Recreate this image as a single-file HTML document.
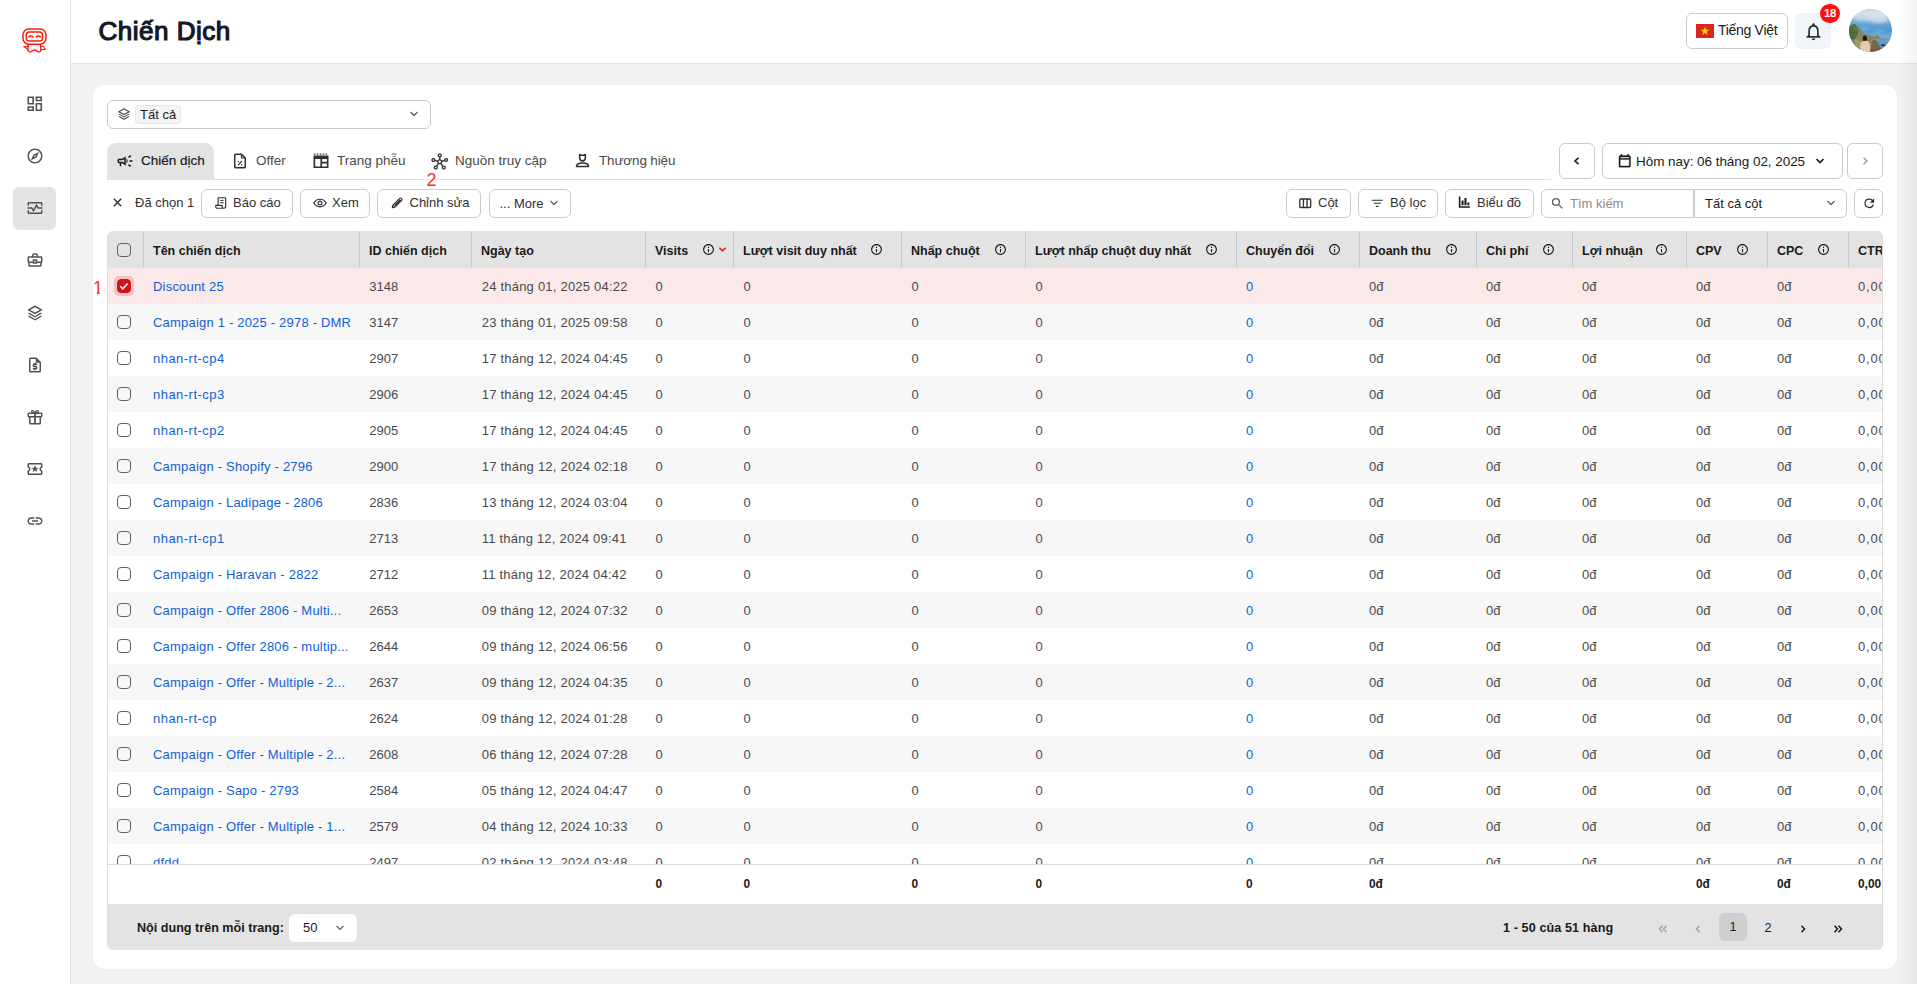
<!DOCTYPE html>
<html lang="vi"><head><meta charset="utf-8"><title>Chiến Dịch</title>
<style>
*{box-sizing:border-box;margin:0;padding:0}
html,body{width:1917px;height:984px;overflow:hidden;background:#f1f1f1;
 font-family:"Liberation Sans",sans-serif;color:#303030;font-size:13px}
.abs{position:absolute}
svg{display:block}
#side{position:absolute;left:0;top:0;width:71px;height:984px;background:#fff;border-right:1px solid #e3e3e3}
#side .it{position:absolute;left:25px;width:20px;height:20px}
#side .act{position:absolute;left:13px;top:187px;width:43px;height:43px;background:#e3e3e3;border-radius:6px}
#head{position:absolute;left:71px;top:0;width:1846px;height:64px;background:#fff;border-bottom:1px solid #e3e3e3}
#title{position:absolute;left:98.500px;top:13px;font-size:26px;font-weight:400;-webkit-text-stroke:1.2px #111827;color:#111827;letter-spacing:0.5px;line-height:36px;white-space:nowrap}
#card{position:absolute;left:93px;top:85px;width:1804px;height:884px;background:#fff;border-radius:12px}
.btn{position:absolute;height:29px;border:1px solid #cbcbcb;border-radius:6px;background:#fff;white-space:nowrap;
 font-size:13px;color:#303030;line-height:25px}
.btn span{position:absolute;top:0}
.btn svg{position:absolute}
.tab{position:absolute;top:144px;height:35px;font-size:13.5px;color:#4a4a4a;line-height:34px;white-space:nowrap}
.tab svg{position:absolute}
.tab span{position:absolute;top:0}
#edge{position:absolute;right:0;top:0;width:17px;height:984px;background:linear-gradient(to right,rgba(0,0,0,0),rgba(0,0,0,0.05));pointer-events:none}
/* table */
#tbl{position:absolute;left:107px;top:231px;width:1776px;height:719px;overflow:hidden;border-right:1px solid #d9d9d9;border-left:1px solid #dedede;border-radius:6px 6px 6px 6px}
#thead{position:absolute;left:0;top:0;width:1776px;height:37px;background:#e3e3e3}
.th{position:absolute;top:0;height:37px;border-left:1px solid #c4cdd5;font-weight:700;font-size:12.5px;color:#1a1a1a;line-height:40px;padding-left:9px;white-space:nowrap}
.th i{position:absolute;top:12px;width:13px;height:13px}
#tbody{position:absolute;left:0;top:37px;width:1776px;height:596px;overflow:hidden}
.tr{position:absolute;left:0;width:1776px;height:36px;line-height:37px;font-size:13px;color:#4a4a4a;white-space:nowrap}
.tr.g{background:#f7f7f7}
.tr.sel{background:#fbe9e9}
.tr b{position:absolute;top:0;font-weight:400}
.tr a{position:absolute;top:0;left:45px;color:#0f5fd6;text-decoration:none;width:210px;overflow:hidden;letter-spacing:.2px}
.tr b.d{letter-spacing:.22px}
.tr .c{color:#0f5fd6}
.cb{position:absolute;left:9px;width:14px;height:14px;border:1px solid #616161;border-radius:4px;background:transparent}
#tfoot{position:absolute;left:0;top:633px;width:1776px;height:40px;border-top:1px solid #dcdcdc;background:#fff;font-size:11.9px;font-weight:700;color:#1a1a1a;line-height:39px}
#tfoot b{position:absolute;top:0}
#pager{position:absolute;left:0;top:673px;width:1776px;height:46px;background:#e3e3e3;font-size:12.6px;font-weight:700;color:#1a1a1a;line-height:48px}
</style></head><body>
<div id="side">
<div class="act"></div>
<svg class="abs" style="left:20px;top:26px" width="30" height="30" viewBox="20 26 30 30" fill="none" stroke="#ff1a0a" stroke-width="1.500" stroke-linejoin="round" stroke-linecap="round">
<rect x="22.950" y="29.050" width="23" height="15.100" rx="5.800"/>
<rect x="26.200" y="32.100" width="16.400" height="9" rx="3.300" stroke-width="1.500"/>
<path d="M28.800 37.100q2.200-2.300 4.400 0M36.200 37.100q2.200-2.300 4.400 0" stroke-width="1.400"/>
<path d="M28.300 44.900L27.900 50.400Q29.500 53.200 31.300 51.400Q32.800 50 34.400 50Q36 50 37.500 51.400Q39.300 53.200 40.900 50.400L40.500 44.900" stroke-width="1.300"/>
<path d="M28.100 46.400L24.200 46.600L27.900 49.500M40.700 46.300L43.600 46.500L45.200 49.500L40.900 49.600" stroke-width="1.100" stroke-linejoin="miter"/>
</svg>
<div class="it" style="left:24.75px;top:94.25px"><svg width="19.5" height="19.5" viewBox="0 0 24 24" fill="#525252" ><path d="M19 5v2h-4V5h4M9 5v6H5V5h4m10 8v6h-4v-6h4M9 17v2H5v-2h4M21 3h-8v6h8V3zM11 3H3v10h8V3zm10 8h-8v10h8V11zm-10 4H3v6h8v-6z"/></svg></div>
<div class="it" style="left:25.5px;top:147.0px"><svg width="18" height="18" viewBox="0 0 24 24" fill="#525252" ><path d="M12 2C6.48 2 2 6.48 2 12s4.48 10 10 10 10-4.48 10-10S17.52 2 12 2zm0 18c-4.41 0-8-3.59-8-8s3.59-8 8-8 8 3.59 8 8-3.59 8-8 8zm-5.5-2.5l7.51-3.49L17.5 6.5 9.99 9.99 6.5 17.5zm5.5-6.6c.61 0 1.1.49 1.1 1.1s-.49 1.1-1.1 1.1-1.1-.49-1.1-1.1.49-1.1 1.1-1.1z"/></svg></div>
<div class="it" style="left:25.5px;top:199.0px"><svg width="18" height="18" viewBox="0 0 24 24" fill="#525252" ><path d="M20 4H4c-1.1 0-2 .9-2 2v3h2V6h16v3h2V6c0-1.1-.9-2-2-2zm0 14H4v-3H2v3c0 1.1.9 2 2 2h16c1.1 0 2-.9 2-2v-3h-2v3z"/><path d="M14.89 7.55c-.34-.68-1.45-.68-1.79 0L10 13.76l-1.11-2.21A.988.988 0 0 0 8 11H2v2h5.380l1.720 3.450c.18.34.52.55.9.55s.72-.21.89-.55L14 10.240l1.110 2.210c.17.34.51.55.89.55h6v-2h-5.380l-1.730-3.450z"/></svg></div>
<div class="it" style="left:25.5px;top:251.0px"><svg width="18" height="18" viewBox="0 0 24 24" fill="#525252" ><path d="M20 7h-4V5l-2-2h-4L8 5v2H4c-1.1 0-2 .9-2 2v5c0 .75.4 1.380 1 1.730V19c0 1.110.89 2 2 2h14c1.110 0 2-.89 2-2v-3.280c.59-.35 1-.99 1-1.720V9c0-1.100-.9-2-2-2zM10 5h4v2h-4V5zM4 9h16v5h-5v-3H9v3H4V9zm9 6h-2v-2h2v2zm6 4H5v-3h4v1h6v-1h4v3z"/></svg></div>
<div class="it" style="left:25.5px;top:304.0px"><svg width="18" height="18" viewBox="0 0 24 24" fill="#525252" ><g fill="none" stroke="#525252" stroke-width="2" stroke-linejoin="round"><path d="M12 3l8.500 4.800-8.500 4.800L3.500 7.800z"/><path d="M3.500 12.200L12 17l8.500-4.800" stroke-width="1.700"/><path d="M3.500 16.200L12 21l8.500-4.800" stroke-width="1.700"/></g></svg></div>
<div class="it" style="left:25.5px;top:356.0px"><svg width="18" height="18" viewBox="0 0 24 24" fill="#525252" ><path d="M14 2H6c-1.1 0-1.99.9-1.990 2L4 20c0 1.100.89 2 1.990 2H18c1.100 0 2-.9 2-2V8l-6-6zM6 20V4h7v5h5v11H6zm5-1h2v-1h1c.55 0 1-.45 1-1v-3c0-.55-.45-1-1-1h-3v-1h4v-2h-2V9h-2v1h-1c-.55 0-1 .45-1 1v3c0 .55.45 1 1 1h3v1H9v2h2v1z"/></svg></div>
<div class="it" style="left:25.5px;top:408.0px"><svg width="18" height="18" viewBox="0 0 24 24" fill="#525252" ><g fill="none" stroke="#525252" stroke-width="2" stroke-linejoin="round"><rect x="3" y="7" width="18" height="4.5" rx="0.8"/><path d="M5 11.500V20a1 1 0 0 0 1 1h12a1 1 0 0 0 1-1v-8.500"/><path d="M12 7v14" stroke-width="2.4"/><path d="M12 6.500c-1-3-3.800-3.800-4.500-2.300S9 6.800 12 6.500zM12 6.500c1-3 3.800-3.800 4.500-2.300S15 6.800 12 6.500z" stroke-width="1.600"/></g></svg></div>
<div class="it" style="left:25.5px;top:460.0px"><svg width="18" height="18" viewBox="0 0 24 24" fill="#525252" ><path d="M22 10V6c0-1.110-.9-2-2-2H4c-1.100 0-1.990.89-1.990 2v4c1.100 0 1.990.9 1.990 2s-.89 2-2 2v4c0 1.100.9 2 2 2h16c1.100 0 2-.9 2-2v-4c-1.100 0-2-.9-2-2s.9-2 2-2zm-2-1.460c-1.190.69-2 1.990-2 3.460s.81 2.770 2 3.460V18H4v-2.540c1.190-.69 2-1.990 2-3.460 0-1.480-.8-2.770-1.990-3.460L4 6h16v2.540zM9.070 16L12 14.120 14.930 16l-.89-3.360 2.690-2.200-3.470-.21L12 7l-1.270 3.220-3.470.21 2.690 2.200z"/></svg></div>
<div class="it" style="left:25.5px;top:512.0px"><svg width="18" height="18" viewBox="0 0 24 24" fill="#525252" ><path d="M3.900 12c0-1.710 1.390-3.100 3.100-3.100h4V7H7c-2.760 0-5 2.240-5 5s2.240 5 5 5h4v-1.900H7c-1.710 0-3.100-1.390-3.100-3.100zM8 13h8v-2H8v2zm9-6h-4v1.900h4c1.710 0 3.100 1.390 3.100 3.100s-1.390 3.100-3.100 3.100h-4V17h4c2.760 0 5-2.240 5-5s-2.240-5-5-5z"/></svg></div>
</div>
<div id="head"></div>
<div id="title">Chiến Dịch</div>
<div class="btn" style="left:1686px;top:13px;width:102px;height:36px;border-radius:6px">
<svg style="left:9px;top:10px" width="18" height="14" viewBox="0 0 18 14"><rect width="18" height="14" fill="#da251d"/><path fill="#ffde00" d="M9 2.600l1.050 3.200h3.350l-2.700 1.950 1.030 3.200L9 9l-2.730 1.950 1.030-3.200L4.600 5.800h3.350z"/></svg>
<span style="left:31px;font-size:14px;line-height:33px;color:#1a1a1a;letter-spacing:-0.3px">Tiếng Việt</span></div>
<div class="abs" style="left:1795px;top:13px;width:36px;height:36px;border-radius:6px;background:#f1f5f9">
<svg style="position:absolute;left:7.500px;top:8px" width="21" height="21" viewBox="0 0 24 24" fill="#303030"><path d="M12 22c1.100 0 2-.9 2-2h-4c0 1.100.9 2 2 2zm6-6v-5c0-3.070-1.630-5.640-4.500-6.320V4c0-.83-.67-1.500-1.500-1.500s-1.500.67-1.500 1.500v.68C7.640 5.360 6 7.920 6 11v5l-2 2v1h16v-1l-2-2zm-2 1H8v-6c0-2.480 1.510-4.500 4-4.500s4 2.020 4 4.500v6z"/></svg></div>
<div class="abs" style="left:1820px;top:3.500px;width:20px;height:19px;border-radius:10px;background:#ff0f0f;color:#fff;font-size:11.500px;font-weight:700;text-align:center;line-height:19px;letter-spacing:-0.3px">18</div>
<svg class="abs" style="left:1849px;top:9px" width="43" height="43" viewBox="0 0 43 43">
<defs><clipPath id="av"><circle cx="21.500" cy="21.500" r="21.500"/></clipPath>
<filter id="bl" x="-20%" y="-20%" width="140%" height="140%"><feGaussianBlur stdDeviation="0.700"/></filter>
<filter id="bl2" x="-20%" y="-20%" width="140%" height="140%"><feGaussianBlur stdDeviation="1.600"/></filter>
<linearGradient id="sky" x1="0" y1="0" x2="0" y2="1"><stop offset="0" stop-color="#a9c6dd"/><stop offset="0.3" stop-color="#6ea9d8"/><stop offset="0.5" stop-color="#4b95d4"/><stop offset="0.66" stop-color="#7db0d6"/><stop offset="0.67" stop-color="#6b9fc0"/><stop offset="1" stop-color="#4f8bb2"/></linearGradient></defs>
<g clip-path="url(#av)">
<rect width="43" height="43" fill="url(#sky)"/>
<g filter="url(#bl2)"><ellipse cx="22" cy="6" rx="17" ry="6" fill="#d3e1ea"/><ellipse cx="30" cy="11" rx="10" ry="3" fill="#c7d9e6"/><ellipse cx="12" cy="9" rx="8" ry="3" fill="#c4d8e6"/><ellipse cx="16" cy="20" rx="4" ry="1" fill="#8fbde0"/><ellipse cx="30" cy="22" rx="7" ry="1.200" fill="#80b4dc"/></g>
<g filter="url(#bl)">
<path d="M0 17.500L4 15.600L6 15l2.500 2.500L12 22l3.500 3 5 1.200 4.500 1.400 3.400-1.500 1.600 1.400 1.700 2-4.500.2-3 .6-2 2 3 2 2 3 3.500 4V43H0z" fill="#8a845a"/>
<path d="M0 17.500L4 15.600L6 15l2 2.500L9.500 22 8 27l-3 4-5-2z" fill="#4f6e3a"/>
<path d="M5 17l3 1 2 4-2 1-3-3z" fill="#5f7d44"/>
<path d="M23 32l3-1.500 2.500 2 1.500 3.500 2 3v4H22z" fill="#74684d"/>
<path d="M6 30l6 2 2 8-8-2z" fill="#a39a68"/>
<path d="M26.500 27.300l2-1.300 1.600 1.400 1.700 2z" fill="#7d8573"/>
<rect x="32" y="35.500" width="4.200" height="1.600" rx=".5" fill="#1f2a38"/>
<path d="M8 38.500c8 1.800 18 2 25 .5l-.5 1.600c-8 1.700-17 1.300-24-.3z" fill="#a8434a"/>
<ellipse cx="15.900" cy="29.600" rx="2.100" ry="3" fill="#15161a"/>
<path d="M11.200 43v-6.500c0-3 2-4.700 4.900-4.700s5 1.700 5 4.700V43z" fill="#decdae"/>
</g>
</g></svg>
<div id="card"></div>
<div class="btn" style="left:107px;top:100px;width:324px;height:29px">
<svg style="left:9px;top:6px" width="14" height="14" viewBox="0 0 24 24" fill="none" stroke="#4a4a4a" stroke-width="1.800" stroke-linejoin="round"><path d="M12 3l9 5-9 5-9-5z"/><path d="M3.500 12.200L12 17l8.500-4.800M3.500 16.200L12 21l8.500-4.800"/></svg>
<div class="abs" style="left:27px;top:4px;width:46px;height:19px;background:#f4f4f4;border:1px solid #e6e6e6;border-radius:4px"></div>
<span style="left:32px;font-size:13px;color:#1a1a1a;line-height:27px">Tất cả</span>
<svg style="left:301px;top:8px" width="10" height="10" viewBox="0 0 10 10" fill="none" stroke="#5c5c5c" stroke-width="1.300"><path d="M1.500 3l3.500 3.500L8.500 3"/></svg>
</div>
<div class="abs" style="left:107px;top:179px;width:1444px;height:1px;background:#e1e1e1"></div>
<div class="abs" style="left:107px;top:143px;width:107px;height:37px;background:#e3e3e3;border-radius:9px 9px 0 0"></div>
<div class="tab" style="left:107px;width:107px;color:#1a1a1a">
<svg style="left:9px;top:8px" width="18" height="18" viewBox="0 0 24 24" fill="#1a1a1a"><path d="M18 11v2h4v-2h-4zm-2 6.610c.96.71 2.210 1.650 3.200 2.390.4-.53.8-1.070 1.200-1.600-.99-.74-2.240-1.680-3.200-2.400-.4.54-.8 1.080-1.200 1.610zM20.400 5.600c-.4-.53-.8-1.070-1.200-1.600-.99.74-2.240 1.680-3.200 2.400.4.53.8 1.070 1.200 1.600.96-.72 2.210-1.650 3.200-2.400zM4 9c-1.100 0-2 .9-2 2v2c0 1.100.9 2 2 2h1v4h2v-4h1l5 3V6L8 9H4zm5.030 1.710L11 9.530v4.940l-1.970-1.180-.48-.29H4v-2h4.550l.48-.29zM15.500 12c0-1.330-.58-2.530-1.500-3.350v6.690c.92-.81 1.500-2.010 1.500-3.340z"/></svg>
<span style="left:34px;font-weight:400;-webkit-text-stroke:0.2px #1a1a1a">Chiến dịch</span></div>
<div class="tab" style="left:224px;width:80px">
<svg style="left:7px;top:8px" width="18" height="18" viewBox="0 0 24 24" fill="none" stroke="#303030" stroke-width="2" stroke-linejoin="round"><path d="M6 3h8l5 5v12a1 1 0 0 1-1 1H6a1 1 0 0 1-1-1V4a1 1 0 0 1 1-1z"/><path d="M14 3v5h5" stroke-width="1.600"/><path d="M9.500 17.500l5-5.500" stroke-width="1.500"/><circle cx="9.700" cy="12.600" r=".9" fill="#303030" stroke="none"/><circle cx="14.300" cy="16.900" r=".9" fill="#303030" stroke="none"/></svg>
<span style="left:32px">Offer</span></div>
<div class="tab" style="left:304px;width:110px">
<svg style="left:7px;top:7px" width="20" height="20" viewBox="0 0 24 24" fill="#303030"><path fill-rule="evenodd" d="M3 5.300h18v15.200H3zM5 9.500v9h6.300v-9zM13.300 9.500v3.500h5.700v-3.500zM13.300 15v3.500h5.700V15z"/><path d="M3.500 3h1.800v1.500H3.500zM7 3h1.800v1.500H7zM10.500 3h1.800v1.500h-1.800zM14 3h1.800v1.500H14zM17.500 3h1.800v1.500h-1.800z"/></svg>
<span style="left:33px">Trang phễu</span></div>
<div class="tab" style="left:422px;width:130px">
<svg style="left:9px;top:9px" width="17.500" height="17.500" viewBox="0 0 24 24" fill="none" stroke="#303030" stroke-width="1.800"><circle cx="12" cy="12" r="2.600"/><circle cx="12" cy="3.300" r="2"/><circle cx="3.300" cy="9.600" r="2"/><circle cx="20.700" cy="9.600" r="2"/><circle cx="6.500" cy="20" r="2"/><circle cx="17.500" cy="20" r="2"/><path d="M12 5.300v4.100M5.200 10.200l4.300 1.200M18.800 10.200l-4.300 1.200M7.600 18.300l2.800-4.100M16.400 18.300l-2.800-4.100"/></svg>
<span style="left:33px">Nguồn truy cập</span></div>
<div class="tab" style="left:566px;width:120px">
<svg style="left:8px;top:8px" width="17" height="17" viewBox="0 0 24 24" fill="none" stroke="#303030" stroke-width="2.200" stroke-linejoin="round"><path d="M8 3.500l1.500 1h5l1.500-1v5a4 4 0 0 1-8 0z"/><path d="M3.500 20.500c0-3.500 3.500-5 8.500-5s8.500 1.500 8.500 5z"/></svg>
<span style="left:33px;letter-spacing:-.15px">Thương hiệu</span></div>
<div class="abs" style="left:426.500px;top:170px;font-size:18px;color:#ff2b2b;line-height:20px">2</div>
<div class="abs" style="left:93px;top:277.500px;font-size:18px;color:#ff2b2b;line-height:20px;clip-path:polygon(0 0,6.600px 0,6.600px 20px,4px 20px,4px 14.300px,0 14.300px)">1</div>
<div class="btn" style="left:1559px;top:143px;width:36px;height:36px"><svg style="left:12px;top:12px" width="10" height="10" viewBox="0 0 10 10" fill="none" stroke="#1a1a1a" stroke-width="1.600"><path d="M6.500 1.800L3 5l3.500 3.200"/></svg></div>
<div class="btn" style="left:1602px;top:143px;width:241px;height:36px">
<svg style="left:14px;top:8.500px" width="15.500" height="15.500" viewBox="0 0 24 24" fill="#1a1a1a" stroke="#1a1a1a" stroke-width=".5"><path d="M19 4h-1V2h-2v2H8V2H6v2H5c-1.100 0-2 .9-2 2v14c0 1.100.9 2 2 2h14c1.100 0 2-.9 2-2V6c0-1.100-.9-2-2-2zm0 16H5V10h14v10zM5 8V6h14v2H5z"/></svg>
<span style="left:33px;font-size:13.500px;color:#1a1a1a;line-height:35px;letter-spacing:-0.05px">Hôm nay: 06 tháng 02, 2025</span>
<svg style="left:212px;top:12px" width="10" height="10" viewBox="0 0 10 10" fill="none" stroke="#1a1a1a" stroke-width="1.700"><path d="M1.500 3l3.500 3.500L8.500 3"/></svg></div>
<div class="btn" style="left:1847px;top:143px;width:36px;height:36px"><svg style="left:12px;top:12px" width="10" height="10" viewBox="0 0 10 10" fill="none" stroke="#9a9a9a" stroke-width="1.400"><path d="M3.500 1.800L7 5 3.500 8.200"/></svg></div>
<svg class="abs" style="left:113px;top:198px" width="9" height="9" viewBox="0 0 9 9" fill="none" stroke="#303030" stroke-width="1.400"><path d="M.8.800l7.400 7.400M8.200.800L.8 8.200"/></svg>
<div class="abs" style="left:135px;top:189px;font-size:13px;line-height:27px;color:#303030;white-space:nowrap">Đã chọn 1</div>
<div class="btn" style="left:201px;top:189px;width:92px">
<svg style="left:12px;top:5.500px" width="14" height="14" viewBox="0 0 24 24" fill="none" stroke="#303030" stroke-width="2" stroke-linejoin="round"><path d="M7 16V4a1 1 0 0 1 1-1h11a1 1 0 0 1 1 1v14a3 3 0 0 1-3 3H5.500A2.500 2.500 0 0 1 3 18.500V16h11v2.500a2.500 2.500 0 0 0 3 2.400"/><path d="M10.500 7.500h6M10.500 11.500h6" stroke-width="1.700"/></svg>
<span style="left:31px">Báo cáo</span></div>
<div class="btn" style="left:300px;top:189px;width:70px">
<svg style="left:12px;top:5.500px" width="14" height="14" viewBox="0 0 24 24" fill="none" stroke="#303030" stroke-width="2"><path d="M1.500 12C4 7.500 7.700 5.500 12 5.500S20 7.500 22.500 12C20 16.500 16.300 18.500 12 18.500S4 16.500 1.500 12z"/><circle cx="12" cy="12" r="3.300"/></svg>
<span style="left:31px">Xem</span></div>
<div class="btn" style="left:377px;top:189px;width:104px">
<svg style="left:11.500px;top:5.500px" width="14" height="14" viewBox="0 0 24 24" fill="none" stroke="#303030" stroke-width="2" stroke-linejoin="round"><path d="M4 20l1-4.500L16.500 4a2.100 2.100 0 0 1 3 0l.5.500a2.100 2.100 0 0 1 0 3L8.500 19z"/><path d="M5 16l3 3" stroke-width="1.500"/><path d="M7 15.500L17 5.500l2 2L9 17.500z" fill="#303030" stroke="none"/></svg>
<span style="left:31.500px">Chỉnh sửa</span></div>
<div class="btn" style="left:489px;top:189px;width:82px">
<span style="left:9.500px;line-height:28px">... More</span>
<svg style="left:59px;top:8px" width="10" height="10" viewBox="0 0 10 10" fill="none" stroke="#616161" stroke-width="1.300"><path d="M1.500 3l3.500 3.500L8.500 3"/></svg></div>
<div class="btn" style="left:1286px;top:189px;width:65px">
<svg style="left:10.500px;top:5.500px" width="14.500" height="14.500" viewBox="0 0 24 24" fill="none" stroke="#303030" stroke-width="2.200" stroke-linejoin="round"><rect x="3" y="5" width="18" height="14" rx="1.500"/><path d="M9 5v14M15 5v14"/></svg>
<span style="left:31px">Cột</span></div>
<div class="btn" style="left:1358px;top:189px;width:80px">
<svg style="left:10.500px;top:5.500px" width="14.500" height="14.500" viewBox="0 0 24 24" fill="#303030"><path d="M10 18h4v-2h-4v2zM3 6v2h18V6H3zm3 7h12v-2H6v2z"/></svg>
<span style="left:31px">Bộ lọc</span></div>
<div class="btn" style="left:1445px;top:189px;width:89px">
<svg style="left:11px;top:5px" width="14.500" height="14.500" viewBox="0 0 24 24" fill="#1a1a1a"><path d="M3 2.500h2.600v16H21.500V21H3z"/><path d="M7.500 9h3.400v8H7.500zM12.300 5h3.400v12h-3.400zM17.100 12.500h3.400v4.500h-3.400z"/></svg>
<span style="left:31px">Biểu đồ</span></div>
<div class="btn" style="left:1541px;top:189px;width:153px;border-radius:6px 0 0 6px">
<svg style="left:8px;top:6px" width="15" height="15" viewBox="0 0 24 24" fill="#5c5c5c"><path d="M15.500 14h-.79l-.28-.27A6.471 6.471 0 0 0 16 9.500 6.500 6.500 0 1 0 9.500 16c1.610 0 3.090-.59 4.230-1.570l.27.28v.79l5 4.990L20.490 19l-4.990-5zm-6 0C7.010 14 5 11.990 5 9.500S7.010 5 9.500 5 14 7.010 14 9.500 11.990 14 9.500 14z"/></svg>
<span style="left:28px;color:#8c8c8c;line-height:28px">Tìm kiếm</span></div>
<div class="btn" style="left:1694px;top:189px;width:153px;border-radius:0 6px 6px 0">
<span style="left:10px;line-height:28px;color:#1a1a1a">Tất cả cột</span>
<svg style="left:131px;top:8px" width="10" height="10" viewBox="0 0 10 10" fill="none" stroke="#616161" stroke-width="1.300"><path d="M1.500 3l3.500 3.500L8.500 3"/></svg></div>
<div class="btn" style="left:1854px;top:189px;width:29px">
<svg style="left:6.500px;top:5.500px" width="14.500" height="14.500" viewBox="0 0 24 24" fill="#303030"><path d="M17.650 6.350A7.958 7.958 0 0 0 12 4a8 8 0 1 0 7.730 10h-2.080A6 6 0 1 1 12 6c1.660 0 3.140.69 4.220 1.780L13 11h7V4l-2.350 2.350z"/></svg></div>
<div id="tbl">
<div id="thead">
<div class="cb" style="top:12px"></div>
<div class="th" style="left:35px;width:216px">Tên chiến dịch</div>
<div class="th" style="left:251px;width:112px">ID chiến dịch</div>
<div class="th" style="left:363px;width:174px">Ngày tạo</div>
<div class="th" style="left:537px;width:88px">Visits<i style="left:56px"><svg width="13" height="13" viewBox="0 0 24 24" fill="#1a1a1a"><path d="M11 7h2v2h-2zm0 4h2v6h-2zm1-9C6.480 2 2 6.480 2 12s4.480 10 10 10 10-4.480 10-10S17.520 2 12 2zm0 18c-4.410 0-8-3.590-8-8s3.590-8 8-8 8 3.590 8 8-3.590 8-8 8z"/></svg></i><svg style="position:absolute;left:72px;top:14px" width="9" height="9" viewBox="0 0 10 10" fill="none" stroke="#e0201c" stroke-width="1.800"><path d="M1.500 3l3.500 3.500L8.500 3"/></svg></div>
<div class="th" style="left:625px;width:168px">Lượt visit duy nhất<i style="left:136px"><svg width="13" height="13" viewBox="0 0 24 24" fill="#1a1a1a"><path d="M11 7h2v2h-2zm0 4h2v6h-2zm1-9C6.480 2 2 6.480 2 12s4.480 10 10 10 10-4.480 10-10S17.520 2 12 2zm0 18c-4.410 0-8-3.590-8-8s3.590-8 8-8 8 3.590 8 8-3.590 8-8 8z"/></svg></i></div>
<div class="th" style="left:793px;width:124px">Nhấp chuột<i style="left:92px"><svg width="13" height="13" viewBox="0 0 24 24" fill="#1a1a1a"><path d="M11 7h2v2h-2zm0 4h2v6h-2zm1-9C6.480 2 2 6.480 2 12s4.480 10 10 10 10-4.480 10-10S17.520 2 12 2zm0 18c-4.410 0-8-3.590-8-8s3.590-8 8-8 8 3.590 8 8-3.590 8-8 8z"/></svg></i></div>
<div class="th" style="left:917px;width:211px">Lượt nhấp chuột duy nhất<i style="left:179px"><svg width="13" height="13" viewBox="0 0 24 24" fill="#1a1a1a"><path d="M11 7h2v2h-2zm0 4h2v6h-2zm1-9C6.480 2 2 6.480 2 12s4.480 10 10 10 10-4.480 10-10S17.520 2 12 2zm0 18c-4.410 0-8-3.590-8-8s3.590-8 8-8 8 3.590 8 8-3.590 8-8 8z"/></svg></i></div>
<div class="th" style="left:1128px;width:123px">Chuyển đổi<i style="left:91px"><svg width="13" height="13" viewBox="0 0 24 24" fill="#1a1a1a"><path d="M11 7h2v2h-2zm0 4h2v6h-2zm1-9C6.480 2 2 6.480 2 12s4.480 10 10 10 10-4.480 10-10S17.520 2 12 2zm0 18c-4.410 0-8-3.590-8-8s3.590-8 8-8 8 3.590 8 8-3.590 8-8 8z"/></svg></i></div>
<div class="th" style="left:1251px;width:117px">Doanh thu<i style="left:85px"><svg width="13" height="13" viewBox="0 0 24 24" fill="#1a1a1a"><path d="M11 7h2v2h-2zm0 4h2v6h-2zm1-9C6.480 2 2 6.480 2 12s4.480 10 10 10 10-4.480 10-10S17.520 2 12 2zm0 18c-4.410 0-8-3.590-8-8s3.590-8 8-8 8 3.590 8 8-3.590 8-8 8z"/></svg></i></div>
<div class="th" style="left:1368px;width:96px">Chi phí<i style="left:65px"><svg width="13" height="13" viewBox="0 0 24 24" fill="#1a1a1a"><path d="M11 7h2v2h-2zm0 4h2v6h-2zm1-9C6.480 2 2 6.480 2 12s4.480 10 10 10 10-4.480 10-10S17.520 2 12 2zm0 18c-4.410 0-8-3.590-8-8s3.590-8 8-8 8 3.590 8 8-3.590 8-8 8z"/></svg></i></div>
<div class="th" style="left:1464px;width:114px">Lợi nhuận<i style="left:82px"><svg width="13" height="13" viewBox="0 0 24 24" fill="#1a1a1a"><path d="M11 7h2v2h-2zm0 4h2v6h-2zm1-9C6.480 2 2 6.480 2 12s4.480 10 10 10 10-4.480 10-10S17.520 2 12 2zm0 18c-4.410 0-8-3.590-8-8s3.590-8 8-8 8 3.590 8 8-3.590 8-8 8z"/></svg></i></div>
<div class="th" style="left:1578px;width:81px">CPV<i style="left:49px"><svg width="13" height="13" viewBox="0 0 24 24" fill="#1a1a1a"><path d="M11 7h2v2h-2zm0 4h2v6h-2zm1-9C6.480 2 2 6.480 2 12s4.480 10 10 10 10-4.480 10-10S17.520 2 12 2zm0 18c-4.410 0-8-3.590-8-8s3.590-8 8-8 8 3.590 8 8-3.590 8-8 8z"/></svg></i></div>
<div class="th" style="left:1659px;width:81px">CPC<i style="left:49px"><svg width="13" height="13" viewBox="0 0 24 24" fill="#1a1a1a"><path d="M11 7h2v2h-2zm0 4h2v6h-2zm1-9C6.480 2 2 6.480 2 12s4.480 10 10 10 10-4.480 10-10S17.520 2 12 2zm0 18c-4.410 0-8-3.590-8-8s3.590-8 8-8 8 3.590 8 8-3.590 8-8 8z"/></svg></i></div>
<div class="th" style="left:1740px;width:52px">CTR</div>
</div>
<div id="tbody">
<div class="tr sel" style="top:0px"><div class="abs" style="left:6px;top:8px;width:20px;height:20px;border-radius:5px;background:#f6c1c1"></div><div class="cb" style="top:11px;background:#cf1519;border-color:#cf1519"><svg style="position:absolute;left:0px;top:0px" width="12" height="12" viewBox="0 0 12 12" fill="none" stroke="#fff" stroke-width="1.500"><path d="M2.300 6.300l2.500 2.500 4.900-5.300"/></svg></div><a>Discount 25</a><b style="left:261.3px">3148</b><b style="left:373.7px" class="d">24 tháng 01, 2025 04:22</b><b style="left:547.5px">0</b><b style="left:635.5px">0</b><b style="left:803.5px">0</b><b style="left:927.5px">0</b><b style="left:1138px" class="c">0</b><b style="left:1261px">0đ</b><b style="left:1378px">0đ</b><b style="left:1474px">0đ</b><b style="left:1588px">0đ</b><b style="left:1669px">0đ</b><b style="left:1750px;letter-spacing:.8px">0,00</b></div>
<div class="tr g" style="top:36px"><div class="cb" style="top:11px"></div><a>Campaign 1 - 2025 - 2978 - DMR</a><b style="left:261.3px">3147</b><b style="left:373.7px" class="d">23 tháng 01, 2025 09:58</b><b style="left:547.5px">0</b><b style="left:635.5px">0</b><b style="left:803.5px">0</b><b style="left:927.5px">0</b><b style="left:1138px" class="c">0</b><b style="left:1261px">0đ</b><b style="left:1378px">0đ</b><b style="left:1474px">0đ</b><b style="left:1588px">0đ</b><b style="left:1669px">0đ</b><b style="left:1750px;letter-spacing:.8px">0,00</b></div>
<div class="tr" style="top:72px"><div class="cb" style="top:11px"></div><a style="letter-spacing:.47px">nhan-rt-cp4</a><b style="left:261.3px">2907</b><b style="left:373.7px" class="d">17 tháng 12, 2024 04:45</b><b style="left:547.5px">0</b><b style="left:635.5px">0</b><b style="left:803.5px">0</b><b style="left:927.5px">0</b><b style="left:1138px" class="c">0</b><b style="left:1261px">0đ</b><b style="left:1378px">0đ</b><b style="left:1474px">0đ</b><b style="left:1588px">0đ</b><b style="left:1669px">0đ</b><b style="left:1750px;letter-spacing:.8px">0,00</b></div>
<div class="tr g" style="top:108px"><div class="cb" style="top:11px"></div><a style="letter-spacing:.47px">nhan-rt-cp3</a><b style="left:261.3px">2906</b><b style="left:373.7px" class="d">17 tháng 12, 2024 04:45</b><b style="left:547.5px">0</b><b style="left:635.5px">0</b><b style="left:803.5px">0</b><b style="left:927.5px">0</b><b style="left:1138px" class="c">0</b><b style="left:1261px">0đ</b><b style="left:1378px">0đ</b><b style="left:1474px">0đ</b><b style="left:1588px">0đ</b><b style="left:1669px">0đ</b><b style="left:1750px;letter-spacing:.8px">0,00</b></div>
<div class="tr" style="top:144px"><div class="cb" style="top:11px"></div><a style="letter-spacing:.47px">nhan-rt-cp2</a><b style="left:261.3px">2905</b><b style="left:373.7px" class="d">17 tháng 12, 2024 04:45</b><b style="left:547.5px">0</b><b style="left:635.5px">0</b><b style="left:803.5px">0</b><b style="left:927.5px">0</b><b style="left:1138px" class="c">0</b><b style="left:1261px">0đ</b><b style="left:1378px">0đ</b><b style="left:1474px">0đ</b><b style="left:1588px">0đ</b><b style="left:1669px">0đ</b><b style="left:1750px;letter-spacing:.8px">0,00</b></div>
<div class="tr g" style="top:180px"><div class="cb" style="top:11px"></div><a>Campaign - Shopify - 2796</a><b style="left:261.3px">2900</b><b style="left:373.7px" class="d">17 tháng 12, 2024 02:18</b><b style="left:547.5px">0</b><b style="left:635.5px">0</b><b style="left:803.5px">0</b><b style="left:927.5px">0</b><b style="left:1138px" class="c">0</b><b style="left:1261px">0đ</b><b style="left:1378px">0đ</b><b style="left:1474px">0đ</b><b style="left:1588px">0đ</b><b style="left:1669px">0đ</b><b style="left:1750px;letter-spacing:.8px">0,00</b></div>
<div class="tr" style="top:216px"><div class="cb" style="top:11px"></div><a>Campaign - Ladipage - 2806</a><b style="left:261.3px">2836</b><b style="left:373.7px" class="d">13 tháng 12, 2024 03:04</b><b style="left:547.5px">0</b><b style="left:635.5px">0</b><b style="left:803.5px">0</b><b style="left:927.5px">0</b><b style="left:1138px" class="c">0</b><b style="left:1261px">0đ</b><b style="left:1378px">0đ</b><b style="left:1474px">0đ</b><b style="left:1588px">0đ</b><b style="left:1669px">0đ</b><b style="left:1750px;letter-spacing:.8px">0,00</b></div>
<div class="tr g" style="top:252px"><div class="cb" style="top:11px"></div><a style="letter-spacing:.47px">nhan-rt-cp1</a><b style="left:261.3px">2713</b><b style="left:373.7px" class="d">11 tháng 12, 2024 09:41</b><b style="left:547.5px">0</b><b style="left:635.5px">0</b><b style="left:803.5px">0</b><b style="left:927.5px">0</b><b style="left:1138px" class="c">0</b><b style="left:1261px">0đ</b><b style="left:1378px">0đ</b><b style="left:1474px">0đ</b><b style="left:1588px">0đ</b><b style="left:1669px">0đ</b><b style="left:1750px;letter-spacing:.8px">0,00</b></div>
<div class="tr" style="top:288px"><div class="cb" style="top:11px"></div><a>Campaign - Haravan - 2822</a><b style="left:261.3px">2712</b><b style="left:373.7px" class="d">11 tháng 12, 2024 04:42</b><b style="left:547.5px">0</b><b style="left:635.5px">0</b><b style="left:803.5px">0</b><b style="left:927.5px">0</b><b style="left:1138px" class="c">0</b><b style="left:1261px">0đ</b><b style="left:1378px">0đ</b><b style="left:1474px">0đ</b><b style="left:1588px">0đ</b><b style="left:1669px">0đ</b><b style="left:1750px;letter-spacing:.8px">0,00</b></div>
<div class="tr g" style="top:324px"><div class="cb" style="top:11px"></div><a>Campaign - Offer 2806 - Multi...</a><b style="left:261.3px">2653</b><b style="left:373.7px" class="d">09 tháng 12, 2024 07:32</b><b style="left:547.5px">0</b><b style="left:635.5px">0</b><b style="left:803.5px">0</b><b style="left:927.5px">0</b><b style="left:1138px" class="c">0</b><b style="left:1261px">0đ</b><b style="left:1378px">0đ</b><b style="left:1474px">0đ</b><b style="left:1588px">0đ</b><b style="left:1669px">0đ</b><b style="left:1750px;letter-spacing:.8px">0,00</b></div>
<div class="tr" style="top:360px"><div class="cb" style="top:11px"></div><a>Campaign - Offer 2806 - multip...</a><b style="left:261.3px">2644</b><b style="left:373.7px" class="d">09 tháng 12, 2024 06:56</b><b style="left:547.5px">0</b><b style="left:635.5px">0</b><b style="left:803.5px">0</b><b style="left:927.5px">0</b><b style="left:1138px" class="c">0</b><b style="left:1261px">0đ</b><b style="left:1378px">0đ</b><b style="left:1474px">0đ</b><b style="left:1588px">0đ</b><b style="left:1669px">0đ</b><b style="left:1750px;letter-spacing:.8px">0,00</b></div>
<div class="tr g" style="top:396px"><div class="cb" style="top:11px"></div><a>Campaign - Offer - Multiple - 2...</a><b style="left:261.3px">2637</b><b style="left:373.7px" class="d">09 tháng 12, 2024 04:35</b><b style="left:547.5px">0</b><b style="left:635.5px">0</b><b style="left:803.5px">0</b><b style="left:927.5px">0</b><b style="left:1138px" class="c">0</b><b style="left:1261px">0đ</b><b style="left:1378px">0đ</b><b style="left:1474px">0đ</b><b style="left:1588px">0đ</b><b style="left:1669px">0đ</b><b style="left:1750px;letter-spacing:.8px">0,00</b></div>
<div class="tr" style="top:432px"><div class="cb" style="top:11px"></div><a style="letter-spacing:.47px">nhan-rt-cp</a><b style="left:261.3px">2624</b><b style="left:373.7px" class="d">09 tháng 12, 2024 01:28</b><b style="left:547.5px">0</b><b style="left:635.5px">0</b><b style="left:803.5px">0</b><b style="left:927.5px">0</b><b style="left:1138px" class="c">0</b><b style="left:1261px">0đ</b><b style="left:1378px">0đ</b><b style="left:1474px">0đ</b><b style="left:1588px">0đ</b><b style="left:1669px">0đ</b><b style="left:1750px;letter-spacing:.8px">0,00</b></div>
<div class="tr g" style="top:468px"><div class="cb" style="top:11px"></div><a>Campaign - Offer - Multiple - 2...</a><b style="left:261.3px">2608</b><b style="left:373.7px" class="d">06 tháng 12, 2024 07:28</b><b style="left:547.5px">0</b><b style="left:635.5px">0</b><b style="left:803.5px">0</b><b style="left:927.5px">0</b><b style="left:1138px" class="c">0</b><b style="left:1261px">0đ</b><b style="left:1378px">0đ</b><b style="left:1474px">0đ</b><b style="left:1588px">0đ</b><b style="left:1669px">0đ</b><b style="left:1750px;letter-spacing:.8px">0,00</b></div>
<div class="tr" style="top:504px"><div class="cb" style="top:11px"></div><a>Campaign - Sapo - 2793</a><b style="left:261.3px">2584</b><b style="left:373.7px" class="d">05 tháng 12, 2024 04:47</b><b style="left:547.5px">0</b><b style="left:635.5px">0</b><b style="left:803.5px">0</b><b style="left:927.5px">0</b><b style="left:1138px" class="c">0</b><b style="left:1261px">0đ</b><b style="left:1378px">0đ</b><b style="left:1474px">0đ</b><b style="left:1588px">0đ</b><b style="left:1669px">0đ</b><b style="left:1750px;letter-spacing:.8px">0,00</b></div>
<div class="tr g" style="top:540px"><div class="cb" style="top:11px"></div><a>Campaign - Offer - Multiple - 1...</a><b style="left:261.3px">2579</b><b style="left:373.7px" class="d">04 tháng 12, 2024 10:33</b><b style="left:547.5px">0</b><b style="left:635.5px">0</b><b style="left:803.5px">0</b><b style="left:927.5px">0</b><b style="left:1138px" class="c">0</b><b style="left:1261px">0đ</b><b style="left:1378px">0đ</b><b style="left:1474px">0đ</b><b style="left:1588px">0đ</b><b style="left:1669px">0đ</b><b style="left:1750px;letter-spacing:.8px">0,00</b></div>
<div class="tr" style="top:576px"><div class="cb" style="top:11px"></div><a>dfdd</a><b style="left:261.3px">2497</b><b style="left:373.7px" class="d">02 tháng 12, 2024 03:48</b><b style="left:547.5px">0</b><b style="left:635.5px">0</b><b style="left:803.5px">0</b><b style="left:927.5px">0</b><b style="left:1138px" class="c">0</b><b style="left:1261px">0đ</b><b style="left:1378px">0đ</b><b style="left:1474px">0đ</b><b style="left:1588px">0đ</b><b style="left:1669px">0đ</b><b style="left:1750px;letter-spacing:.8px">0,00</b></div>
</div>
<div id="tfoot">
<b style="left:547.5px">0</b>
<b style="left:635.5px">0</b>
<b style="left:803.5px">0</b>
<b style="left:927.5px">0</b>
<b style="left:1138px">0</b>
<b style="left:1261px">0đ</b>
<b style="left:1588px">0đ</b>
<b style="left:1669px">0đ</b>
<b style="left:1750px">0,00</b>
</div>
<div id="pager">
<span class="abs" style="left:29px;top:0;white-space:nowrap">Nội dung trên mỗi trang:</span>
<div class="abs" style="left:181px;top:10px;width:68px;height:28px;background:#fff;border-radius:6px;font-weight:400;line-height:28px">
<span class="abs" style="left:14px;top:0;font-size:13px">50</span><svg style="position:absolute;left:46px;top:9px" width="10" height="10" viewBox="0 0 10 10" fill="none" stroke="#5c5c5c" stroke-width="1.100"><path d="M1.500 3l3.500 3.500L8.500 3"/></svg></div>
<span class="abs" style="left:1395px;top:0;white-space:nowrap;letter-spacing:.1px">1 - 50 của 51 hàng</span>
<svg class="abs" style="left:1550px;top:19.500px" width="10" height="10" viewBox="0 0 10 10" fill="none" stroke="#a3a3a3" stroke-width="1.500"><path d="M4.500 1.800L1.500 5l3 3.200M8.500 1.800L5.500 5l3 3.200"/></svg>
<svg class="abs" style="left:1585px;top:19.500px" width="10" height="10" viewBox="0 0 10 10" fill="none" stroke="#a3a3a3" stroke-width="1.500"><path d="M6.500 1.800L3.500 5l3 3.200"/></svg>
<div class="abs" style="left:1611px;top:9px;width:28px;height:28px;border-radius:6px;background:#cfcfcf;font-weight:400;text-align:center;line-height:28px">1</div>
<div class="abs" style="left:1646px;top:10px;width:28px;height:28px;font-weight:400;text-align:center;line-height:28px">2</div>
<svg class="abs" style="left:1690px;top:19.500px" width="10" height="10" viewBox="0 0 10 10" fill="none" stroke="#1a1a1a" stroke-width="1.500"><path d="M3.500 1.800L6.500 5l-3 3.200"/></svg>
<svg class="abs" style="left:1725px;top:19.500px" width="10" height="10" viewBox="0 0 10 10" fill="none" stroke="#1a1a1a" stroke-width="1.500"><path d="M1.500 1.800L4.500 5l-3 3.200M5.500 1.800L8.500 5l-3 3.200"/></svg>
</div>
</div>
<div id="edge"></div>
</body></html>
